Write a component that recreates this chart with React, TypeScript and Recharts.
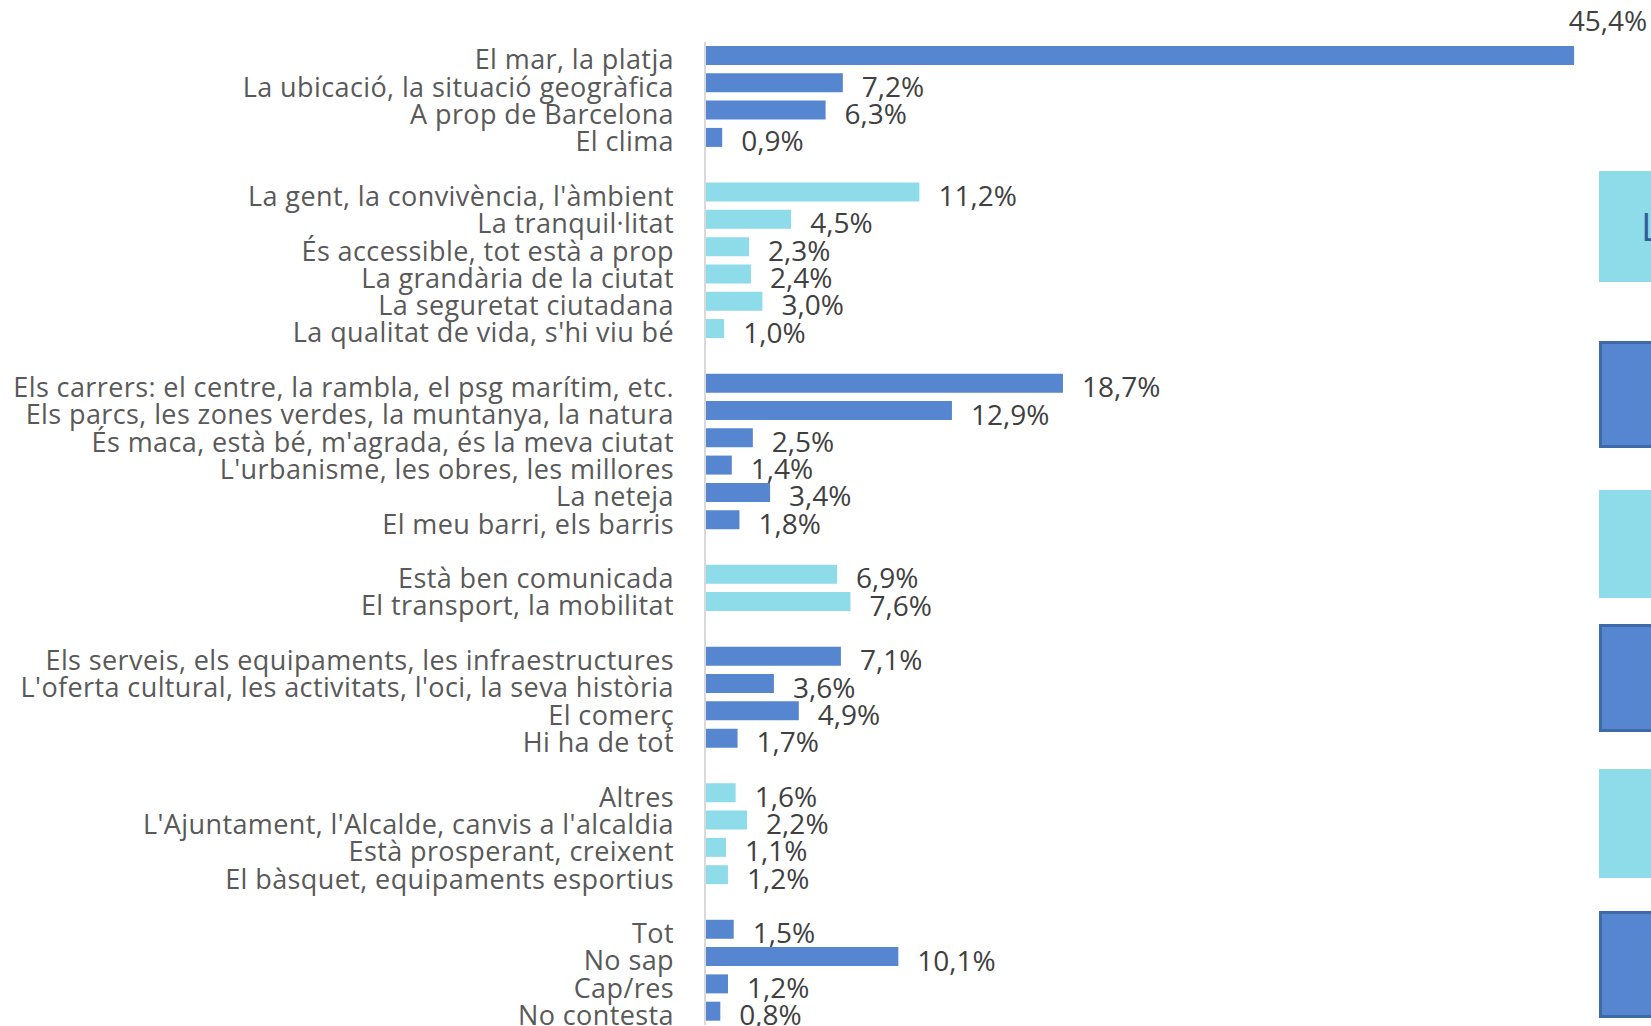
import React from 'react'
import { BarChart, Bar, XAxis, YAxis, Cell, LabelList } from 'recharts'

// Groups of answers, top to bottom
const entorn = ['El mar, la platja', 'La ubicació, la situació geogràfica', 'A prop de Barcelona', 'El clima']
const entornValues = [45.4, 7.2, 6.3, 0.9]

const convivencia = [
  "La gent, la convivència, l'àmbient",
  'La tranquil·litat',
  'És accessible, tot està a prop',
  'La grandària de la ciutat',
  'La seguretat ciutadana',
  "La qualitat de vida, s'hi viu bé",
]
const convivenciaValues = [11.2, 4.5, 2.3, 2.4, 3.0, 1.0]

const ciutat = [
  'Els carrers: el centre, la rambla, el psg marítim, etc.',
  'Els parcs, les zones verdes, la muntanya, la natura',
  "És maca, està bé, m'agrada, és la meva ciutat",
  "L'urbanisme, les obres, les millores",
  'La neteja',
  'El meu barri, els barris',
]
const ciutatValues = [18.7, 12.9, 2.5, 1.4, 3.4, 1.8]

const mobilitat = ['Està ben comunicada', 'El transport, la mobilitat']
const mobilitatValues = [6.9, 7.6]

const serveis = [
  'Els serveis, els equipaments, les infraestructures',
  "L'oferta cultural, les activitats, l'oci, la seva història",
  'El comerç',
  'Hi ha de tot',
]
const serveisValues = [7.1, 3.6, 4.9, 1.7]

const altres = ['Altres', "L'Ajuntament, l'Alcalde, canvis a l'alcaldia", 'Està prosperant, creixent', 'El bàsquet, equipaments esportius']
const altresValues = [1.6, 2.2, 1.1, 1.2]

const generals = ['Tot', 'No sap', 'Cap/res', 'No contesta']
const generalsValues = [1.5, 10.1, 1.2, 0.8]

const DARK = '#5586CF'
const LIGHT = '#8EDCEA'
const FONT = '"Open Sans"'

const groups = [
  { names: entorn, values: entornValues, color: DARK },
  { names: convivencia, values: convivenciaValues, color: LIGHT },
  { names: ciutat, values: ciutatValues, color: DARK },
  { names: mobilitat, values: mobilitatValues, color: LIGHT },
  { names: serveis, values: serveisValues, color: DARK },
  { names: altres, values: altresValues, color: LIGHT },
  { names: generals, values: generalsValues, color: DARK },
]

type Row = { name: string; value: number | null; color: string }

const rows: Row[] = []
groups.forEach((g, gi) => {
  if (gi > 0) rows.push({ name: `_gap${gi}`, value: null, color: 'none' })
  g.names.forEach((n, i) => rows.push({ name: n, value: g.values[i], color: g.color }))
})

// side boxes (cut off at the right edge of the picture)
const sideBoxes = [
  { top: 171, height: 111, light: true, text: 'L' },
  { top: 341, height: 107, light: false, text: '' },
  { top: 490, height: 108, light: true, text: '' },
  { top: 624, height: 108, light: false, text: '' },
  { top: 769, height: 109, light: true, text: '' },
  { top: 911, height: 107, light: false, text: '' },
]

const fmt = (v: number) => v.toFixed(1).replace('.', ',') + '%'

function CategoryTick(props: any) {
  const { x, y, payload } = props
  const label = String(payload.value)
  if (label.startsWith('_gap')) return null
  return (
    <text x={x} y={y + 4} dy="0.36em" textAnchor="end" fill="#595959" fontSize={27} letterSpacing={0.4} fontFamily={FONT}>
      {label}
    </text>
  )
}

function ValueLabel(props: any) {
  const { x, y, width, height, value } = props
  if (value == null) return null
  const v = Number(value)
  if (v > 40) {
    // no room on the right: goes above the end of the bar
    return (
      <text x={x + width + 73} y={y + height / 2 - 35} dy="0.36em" textAnchor="end" fill="#404040" fontSize={28} fontFamily={FONT}>
        {fmt(v)}
      </text>
    )
  }
  return (
    <text x={x + width + 19} y={y + height / 2 + 4} dy="0.36em" textAnchor="start" fill="#404040" fontSize={28} fontFamily={FONT}>
      {fmt(v)}
    </text>
  )
}

export default function App() {
  return (
    <div style={{ position: 'absolute', left: 0, top: 0, width: 1651, height: 1026, overflow: 'hidden', background: '#fff', fontFamily: FONT }}>
      <BarChart
        layout="vertical"
        width={1651}
        height={1026}
        data={rows}
        margin={{ top: 42, right: 8, bottom: 1, left: 0 }}
      >
        <XAxis type="number" domain={[0, 49]} hide />
        <YAxis
          type="category"
          dataKey="name"
          width={705}
          interval={0}
          tickLine={false}
          tickSize={0}
          tickMargin={31}
          axisLine={{ stroke: '#D9D9D9', strokeWidth: 2 }}
          tick={<CategoryTick />}
        />
        <Bar dataKey="value" barSize={19} isAnimationActive={false}>
          {rows.map((r, i) => (
            <Cell key={i} fill={r.color} />
          ))}
          <LabelList dataKey="value" content={<ValueLabel />} />
        </Bar>
      </BarChart>
      {sideBoxes.map((b, i) => (
        <div
          key={i}
          style={{
            position: 'absolute',
            left: 1599,
            top: b.top,
            width: 80,
            height: b.height,
            boxSizing: 'border-box',
            background: b.light ? LIGHT : DARK,
            border: b.light ? 'none' : '3px solid #3F6AA8',
            color: '#2F5F9A',
            fontSize: 38,
            fontFamily: FONT,
            lineHeight: `${b.height}px`,
            paddingLeft: 42,
          }}
        >
          {b.text}
        </div>
      ))}
    </div>
  )
}
